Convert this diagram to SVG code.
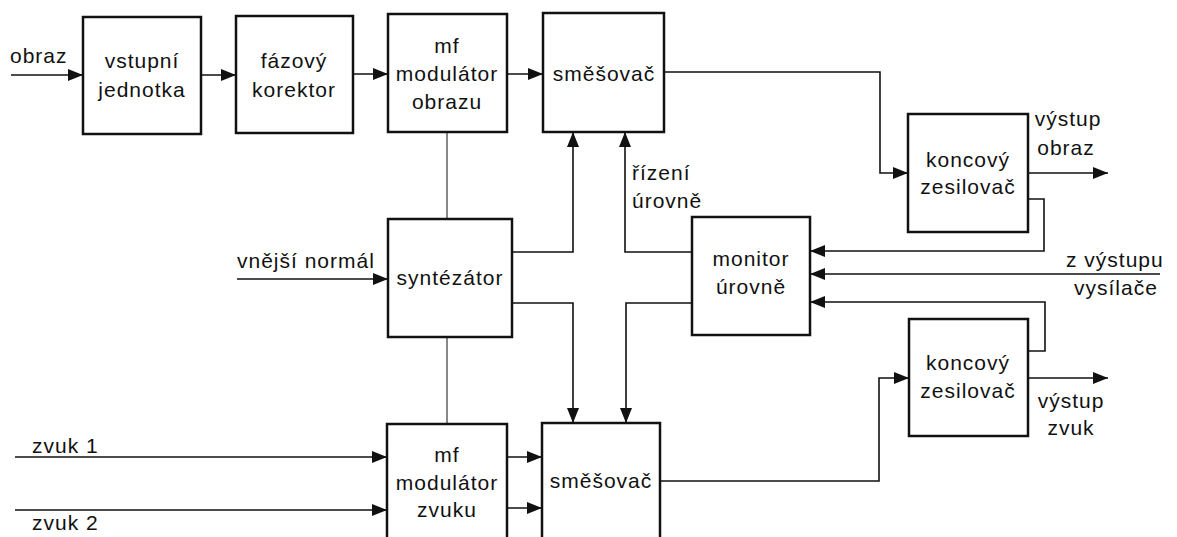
<svg xmlns="http://www.w3.org/2000/svg" width="1177" height="537" viewBox="0 0 1177 537">
<style>
.box{fill:#fff;stroke:#111;stroke-width:2.5}
.c{fill:none;stroke:#111;stroke-width:1.6}
.t{fill:none;stroke:#111;stroke-width:1}
text{font-family:"Liberation Sans",Arial,sans-serif;font-size:21px;letter-spacing:1px;fill:#111}
.m{text-anchor:middle}
</style>
<defs>
<marker id="ar" markerUnits="userSpaceOnUse" markerWidth="16" markerHeight="12" refX="15" refY="6" orient="auto">
<path d="M0,0 L15,6 L0,12 z" fill="#111"/>
</marker>
</defs>
<rect width="1177" height="537" fill="#fff"/>
<g id="connectors">
<path class="c" d="M11,75 H83" marker-end="url(#ar)"/>
<path class="c" d="M201,75 H236" marker-end="url(#ar)"/>
<path class="c" d="M353,74 H388" marker-end="url(#ar)"/>
<path class="c" d="M507,74 H543" marker-end="url(#ar)"/>
<path class="c" d="M664,72 H880 V173 H908" marker-end="url(#ar)"/>
<path class="c" d="M1028,173 H1108" marker-end="url(#ar)"/>
<path class="c" d="M1028,199 H1044 V251 H810" marker-end="url(#ar)"/>
<path class="c" d="M1160,274 H810" marker-end="url(#ar)"/>
<path class="c" d="M1028,351 H1045 V302 H810" marker-end="url(#ar)"/>
<path class="c" d="M660,481 H879 V378 H909" marker-end="url(#ar)"/>
<path class="c" d="M1028,378 H1108" marker-end="url(#ar)"/>
<path class="t" d="M447,132 V219"/>
<path class="c" d="M512,252 H573 V132" marker-end="url(#ar)"/>
<path class="c" d="M692,252 H625 V132" marker-end="url(#ar)"/>
<path class="c" d="M512,303 H573 V423" marker-end="url(#ar)"/>
<path class="c" d="M692,303 H626 V423" marker-end="url(#ar)"/>
<path class="t" d="M447,337 V424"/>
<path class="c" d="M237,279 H388" marker-end="url(#ar)"/>
<path class="c" d="M15,457 H387" marker-end="url(#ar)"/>
<path class="c" d="M15,510 H387" marker-end="url(#ar)"/>
<path class="c" d="M507,457 H542" marker-end="url(#ar)"/>
<path class="c" d="M507,508 H542" marker-end="url(#ar)"/>
</g>
<g id="labels">
<text x="10" y="63">obraz</text>
<text x="632" y="180">řízení</text>
<text x="632" y="208">úrovně</text>
<text class="m" x="1068" y="126">výstup</text>
<text class="m" x="1066" y="155">obraz</text>
<text x="1066" y="267">z výstupu</text>
<text x="1074" y="295">vysílače</text>
<text class="m" x="1071" y="408">výstup</text>
<text class="m" x="1071" y="435">zvuk</text>
<text x="237" y="268">vnější normál</text>
<text x="32" y="453">zvuk 1</text>
<text x="32" y="530">zvuk 2</text>
</g>
<g id="vstupni">
<rect class="box" x="83" y="17" width="118" height="117"/>
<text class="m" x="142" y="68">vstupní</text>
<text class="m" x="142" y="97">jednotka</text>
</g>
<g id="fazovy">
<rect class="box" x="236" y="16" width="117" height="117"/>
<text class="m" x="294" y="68">fázový</text>
<text class="m" x="294" y="97">korektor</text>
</g>
<g id="mf-obraz">
<rect class="box" x="388" y="14" width="119" height="118"/>
<text class="m" x="447" y="53">mf</text>
<text class="m" x="447" y="81">modulátor</text>
<text class="m" x="447" y="109">obrazu</text>
</g>
<g id="smesovac-top">
<rect class="box" x="543" y="13" width="121" height="119"/>
<text class="m" x="604" y="81">směšovač</text>
</g>
<g id="koncovy-top">
<rect class="box" x="908" y="114" width="120" height="118"/>
<text class="m" x="968" y="167">koncový</text>
<text class="m" x="968" y="194">zesilovač</text>
</g>
<g id="syntezator">
<rect class="box" x="388" y="219" width="124" height="118"/>
<text class="m" x="450" y="285">syntézátor</text>
</g>
<g id="monitor">
<rect class="box" x="692" y="217" width="118" height="118"/>
<text class="m" x="751" y="266">monitor</text>
<text class="m" x="751" y="294">úrovně</text>
</g>
<g id="koncovy-bottom">
<rect class="box" x="909" y="319" width="119" height="117"/>
<text class="m" x="968" y="370">koncový</text>
<text class="m" x="968" y="398">zesilovač</text>
</g>
<g id="mf-zvuk">
<rect class="box" x="387" y="424" width="120" height="130"/>
<text class="m" x="447" y="462">mf</text>
<text class="m" x="447" y="490">modulátor</text>
<text class="m" x="447" y="517">zvuku</text>
</g>
<g id="smesovac-bottom">
<rect class="box" x="542" y="423" width="118" height="130"/>
<text class="m" x="601" y="488">směšovač</text>
</g>
</svg>
